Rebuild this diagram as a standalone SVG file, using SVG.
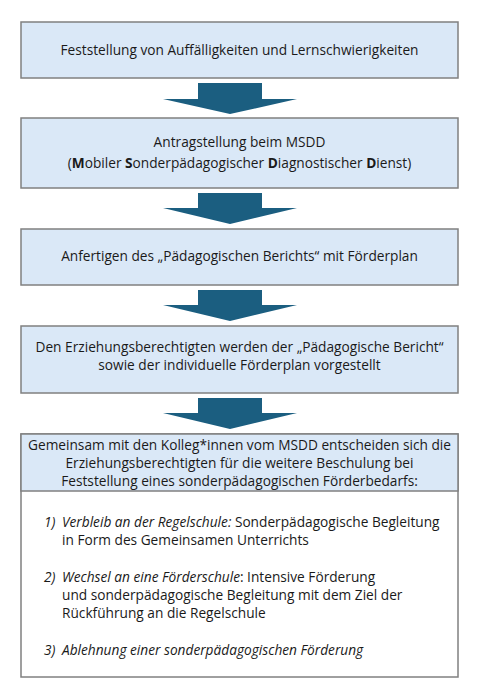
<svg xmlns="http://www.w3.org/2000/svg" width="478" height="700" viewBox="0 0 478 700">
<style>
.box{fill:#dae8f7;stroke:#808080;stroke-width:1.5}
.wbox{fill:#ffffff;stroke:#808080;stroke-width:1.5}
.arr{fill:#1b5e80}
text{font-family:"Open Sans","Noto Sans","Liberation Sans",sans-serif;font-size:13.7px;fill:#1a1a1a}
.c{text-anchor:middle}
.b{font-weight:bold}
.i{font-style:italic}
</style>
<rect width="478" height="700" fill="#ffffff"/>
<g id="connectors">
<path class="arr" d="M198,83 H262 V99 H297 L230,114 L163,99 H198 Z"/>
<path class="arr" d="M198,193 H262 V208 H297 L230,224 L163,208 H198 Z"/>
<path class="arr" d="M198,290 H262 V305 H297 L230,321 L163,305 H198 Z"/>
<path class="arr" d="M198,398 H262 V413 H297 L230,429 L163,413 H198 Z"/>
</g>
<g id="node1">
<rect class="box" x="21" y="22" width="437" height="56"/>
<text class="c" x="239.5" y="55">Feststellung von Auffälligkeiten und Lernschwierigkeiten</text>
</g>
<g id="node2">
<rect class="box" x="21" y="118" width="437" height="70"/>
<text class="c" x="239.5" y="147">Antragstellung beim MSDD</text>
<text class="c" x="239.5" y="168">(<tspan class="b">M</tspan>obiler <tspan class="b">S</tspan>onderpädagogischer <tspan class="b">D</tspan>iagnostischer <tspan class="b">D</tspan>ienst)</text>
</g>
<g id="node3">
<rect class="box" x="21" y="229" width="437" height="56"/>
<text class="c" x="239.5" y="261">Anfertigen des „Pädagogischen Berichts“ mit Förderplan</text>
</g>
<g id="node4">
<rect class="box" x="21" y="326" width="437" height="67"/>
<text class="c" x="239.5" y="352">Den Erziehungsberechtigten werden der „Pädagogische Bericht“</text>
<text class="c" x="239.5" y="370">sowie der individuelle Förderplan vorgestellt</text>
</g>
<g id="node5">
<rect class="wbox" x="21" y="434" width="437" height="243"/>
<rect class="box" x="21" y="434" width="437" height="57"/>
<text class="c" x="239.5" y="450">Gemeinsam mit den Kolleg*innen vom MSDD entscheiden sich die</text>
<text class="c" x="239.5" y="468">Erziehungsberechtigten für die weitere Beschulung bei</text>
<text class="c" x="239.5" y="486">Feststellung eines sonderpädagogischen Förderbedarfs:</text>
<text class="i" x="44" y="527">1)</text>
<text x="62" y="527"><tspan class="i">Verbleib an der Regelschule:</tspan> Sonderpädagogische Begleitung</text>
<text x="62" y="545">in Form des Gemeinsamen Unterrichts</text>
<text class="i" x="44" y="582">2)</text>
<text x="62" y="582"><tspan class="i">Wechsel an eine Förderschule</tspan>: Intensive Förderung</text>
<text x="62" y="600">und sonderpädagogische Begleitung mit dem Ziel der</text>
<text x="62" y="618">Rückführung an die Regelschule</text>
<text class="i" x="44" y="655">3)</text>
<text class="i" x="62" y="655">Ablehnung einer sonderpädagogischen Förderung</text>
</g>
</svg>
